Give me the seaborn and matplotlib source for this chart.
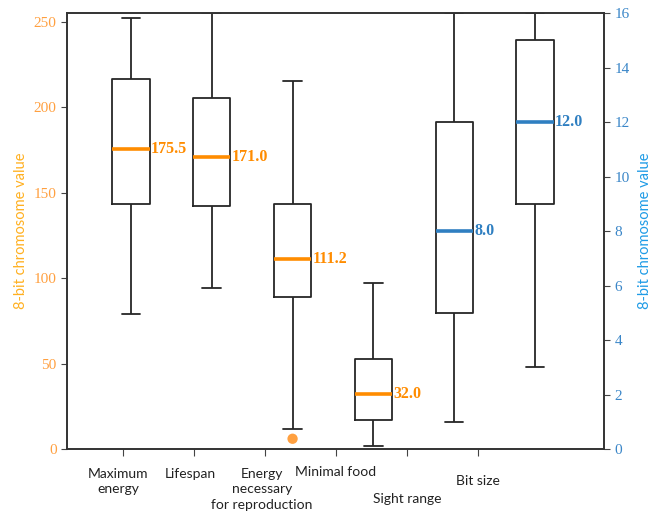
import matplotlib
matplotlib.use("Agg")
import matplotlib.pyplot as plt
import matplotlib.transforms as mtransforms
import seaborn as sns
import pandas as pd
import numpy as np

# five-number summaries: lower whisker, Q1, median, Q3, upper whisker
features = ["Maximum energy", "Lifespan", "Energy necessary for reproduction",
            "Minimal food", "Sight range", "Bit size"]
tick_labels = ["Maximum\nenergy", "Lifespan", "Energy\nnecessary\nfor reproduction",
               "Minimal food", "Sight range", "Bit size"]
low_whisker = [79, 94, 12, 2, 1, 3]
q1 = [143.5, 142, 88.8, 17, 5, 9]
median = [175.5, 171.0, 111.2, 32.0, 8.0, 12.0]
q3 = [216.5, 205, 143.3, 52.5, 12, 15]
high_whisker = [252, 255, 215, 97, 16, 16]
right_axis = [False, False, False, False, True, True]

outlier_feature = ["Energy necessary for reproduction"]
outlier_value = [6]

rows = []
for i, f in enumerate(features):
    for v in (low_whisker[i], q1[i], median[i], q3[i], high_whisker[i]):
        rows.append((f, v, right_axis[i]))
df = pd.DataFrame(rows, columns=["feature", "value", "right"])

ORANGE = "#ff8c00"
BLUE = "#2f7fc1"

sns.set_style("ticks")
plt.rcParams["font.family"] = ["Liberation Serif", "DejaVu Serif"]

fig = plt.figure(figsize=(6.54, 5.2), dpi=100)
ax = fig.add_axes([0.1024, 0.1365, 0.8211, 0.8385])
ax2 = ax.twinx()

box_kw = dict(width=0.46, whis=(0, 100), fill=False, color="#262626", linewidth=1.3,
              showfliers=False, order=features)
sns.boxplot(data=df[~df.right], x="feature", y="value", ax=ax,
            medianprops=dict(color=ORANGE, linewidth=2.6), **box_kw)
sns.boxplot(data=df[df.right], x="feature", y="value", ax=ax2,
            medianprops=dict(color=BLUE, linewidth=2.6), **box_kw)

out_df = pd.DataFrame({"feature": outlier_feature, "value": outlier_value})
out_df["pos"] = [features.index(f) for f in out_df.feature]
sns.scatterplot(data=out_df, x="pos", y="value", ax=ax, color="#ffa040", s=55,
                edgecolor="none", zorder=5)

# median labels
for i, m in enumerate(median):
    target = ax2 if right_axis[i] else ax
    col = BLUE if right_axis[i] else ORANGE
    target.text(i + 0.25, m, f"{m:.1f}", color=col, fontsize=11.5, fontweight="bold",
                va="center", ha="left", family=["Liberation Serif"])

ax.set_xlim(-0.792, 5.854)
ax.set_ylim(0, 255)
ax2.set_ylim(0, 16)
ax.set_yticks([0, 50, 100, 150, 200, 250])
ax2.set_yticks(range(0, 17, 2))

tick_pos = np.arange(6) * 0.879 - 0.099
ax.set_xticks(tick_pos)
ax.set_xticklabels([""] * 6)
ax.set_xlabel("")
ax2.set_xlabel("")

trans = mtransforms.blended_transform_factory(ax.transData, ax.transAxes)
label_x_shift = [-0.06, -0.04, -0.04, 0.0, 0.0, 0.0]
label_y = [-0.043, -0.043, -0.043, -0.040, -0.100, -0.060]
for x, dx, lab, y in zip(tick_pos, label_x_shift, tick_labels, label_y):
    ax.text(x + dx, y, lab, transform=trans, ha="center", va="top", fontsize=10,
            color="#222222", family=["Lato", "DejaVu Sans"], linespacing=1.35)

ax.tick_params(axis="y", colors="#444444", labelcolor="#ffa040", labelsize=11, length=4)
ax2.tick_params(axis="y", colors="#444444", labelcolor="#3a86c8", labelsize=11, length=4)
ax.tick_params(axis="x", colors="#444444", length=5)

ax.set_ylabel("8-bit chromosome value", color="#ffb020", fontsize=10.5,
              family=["Lato", "DejaVu Sans"], labelpad=4)
ax2.set_ylabel("8-bit chromosome value", color="#1e9be6", fontsize=10.5,
               family=["Lato", "DejaVu Sans"], labelpad=6)

for a in (ax, ax2):
    for s in a.spines.values():
        s.set_visible(True)
        s.set_color("#333333")
        s.set_linewidth(1.2)

fig.savefig("out.png", dpi=100)
